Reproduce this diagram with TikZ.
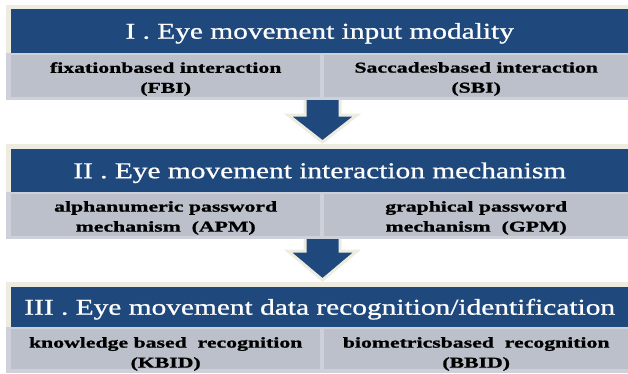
\documentclass[tikz,border=0pt]{standalone}
\usepackage{fontspec}
\setmainfont{Liberation Serif}
\newfontfamily\hdrfont[FakeStretch=1.3,FakeBold=0.8]{Liberation Serif}
\newfontfamily\cellfont[FakeStretch=1.45,FakeBold=1.2]{Liberation Serif}
\usetikzlibrary{calc}
\definecolor{hblue}{HTML}{1F497D}
\definecolor{cellgray}{HTML}{BBC0CB}
\definecolor{stripgray}{HTML}{CED1D9}
\definecolor{cream}{HTML}{EEECE1}
\begin{document}
\begin{tikzpicture}[x=1pt,y=-1pt,
  hdr/.style={fill=hblue, text=white, inner sep=0pt, anchor=north west,
    minimum width=617pt, font=\hdrfont\fontsize{22.6}{26}\selectfont,
    text height=15pt, text depth=0pt},
  cellbox/.style={fill=cellgray, inner sep=0pt, anchor=north west},
  celltxt/.style={inner sep=0pt, anchor=north, align=center,
    font=\cellfont\bfseries\fontsize{15}{20}\selectfont},
  arrowshape/.style={fill=hblue, draw=cream, line width=3pt, line join=miter}]
\useasboundingbox (0,0) rectangle (628,373);
\fill[white] (0,0) rectangle (628,373);

% arrows (drawn first, sections overlay their ends)
\coordinate (a1s) at (322.5,97);
\coordinate (a1b) at (322.5,115);
\coordinate (a1t) at (322.5,142);
\draw[arrowshape] ($(a1s)+(-17.5,0)$) -- ($(a1s)+(17.5,0)$) -- ($(a1b)+(17.5,0)$)
  -- ($(a1b)+(34.5,0)$) -- (a1t) -- ($(a1b)+(-34.5,0)$) -- ($(a1b)+(-17.5,0)$) -- cycle;
\coordinate (a2s) at (322.5,236);
\coordinate (a2b) at (322.5,251);
\coordinate (a2t) at (322.5,280);
\draw[arrowshape] ($(a2s)+(-17.5,0)$) -- ($(a2s)+(17.5,0)$) -- ($(a2b)+(17.5,0)$)
  -- ($(a2b)+(34.5,0)$) -- (a2t) -- ($(a2b)+(-34.5,0)$) -- ($(a2b)+(-17.5,0)$) -- cycle;

% section 1
\fill[cream] (6,5) rectangle (628,54);
\fill[stripgray] (6,53) rectangle (628,100);
\node[hdr, minimum height=44pt] (h1) at (11,9) {I . Eye movement input modality};
\node[cellbox, minimum width=309pt, minimum height=42pt] (c1a) at (11,55) {};
\node[cellbox, minimum width=304pt, minimum height=42pt] (c1b) at (324,55) {};
\node[celltxt] (t1a) at ($(c1a.north)+(0,7)$) {fixationbased interaction\\(FBI)};
\node[celltxt] (t1b) at ($(c1b.north)+(0,7)$) {Saccadesbased interaction\\(SBI)};

% section 2
\fill[cream] (6,144) rectangle (628,193);
\fill[stripgray] (6,192) rectangle (628,239);
\node[hdr, minimum height=43pt] (h2) at (11,149) {II . Eye movement interaction mechanism};
\node[cellbox, minimum width=309pt, minimum height=42pt] (c2a) at (11,194) {};
\node[cellbox, minimum width=304pt, minimum height=42pt] (c2b) at (324,194) {};
\node[celltxt] (t2a) at ($(c2a.north)+(0,7)$) {alphanumeric password\\mechanism\ \ (APM)};
\node[celltxt] (t2b) at ($(c2b.north)+(0,7)$) {graphical password\\mechanism\ \ (GPM)};

% section 3
\fill[cream] (6,282) rectangle (628,328);
\fill[stripgray] (6,327) rectangle (628,373);
\node[hdr, minimum height=40pt] (h3) at (11,287) {III . Eye movement data recognition/identification};
\node[cellbox, minimum width=309pt, minimum height=40pt] (c3a) at (11,329) {};
\node[cellbox, minimum width=304pt, minimum height=40pt] (c3b) at (324,329) {};
\node[celltxt] (t3a) at ($(c3a.north)+(0,8)$) {knowledge based\ \ recognition\\(KBID)};
\node[celltxt] (t3b) at ($(c3b.north)+(0,8)$) {biometricsbased\ \ recognition\\(BBID)};
\end{tikzpicture}
\end{document}
